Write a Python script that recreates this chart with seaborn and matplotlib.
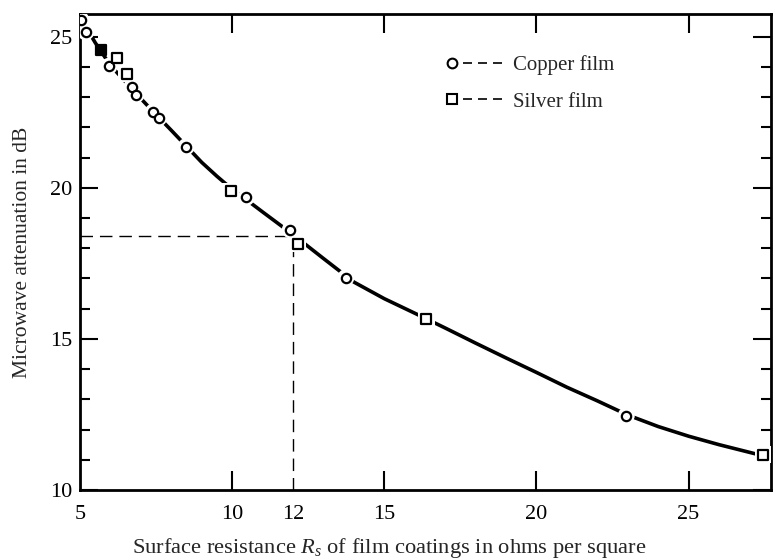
import matplotlib
matplotlib.use("Agg")
import matplotlib.pyplot as plt
from matplotlib.lines import Line2D
from matplotlib.legend_handler import HandlerBase
import seaborn as sns

# values
copper_x = [5.02, 5.19, 5.95, 6.70, 6.84, 7.41, 7.58, 8.49, 10.46, 11.91, 13.74, 22.95]
copper_y = [25.56, 25.16, 24.02, 23.33, 23.08, 22.51, 22.31, 21.36, 19.68, 18.61, 17.03, 12.46]
silver_x = [6.21, 6.54, 9.96, 12.16, 16.37, 27.46]
silver_y = [24.29, 23.77, 19.88, 18.15, 15.66, 11.16]
silver_filled_x = [5.69]
silver_filled_y = [24.57]

curve_x = [5.0, 5.5, 6.0, 6.5, 7.0, 7.5, 8.0, 8.5, 9.0, 9.5, 10.0, 10.5, 11.0, 12.0, 13.0,
           14.0, 15.0, 16.0, 17.0, 18.0, 19.0, 20.0, 21.0, 22.0, 23.0, 24.0, 25.0, 26.0, 27.3]
curve_y = [25.65, 24.8, 24.05, 23.5, 22.95, 22.42, 21.9, 21.37, 20.84, 20.38, 19.95, 19.58,
           19.2, 18.45, 17.66, 16.88, 16.33, 15.85, 15.36, 14.86, 14.37, 13.89, 13.4, 12.95,
           12.48, 12.1, 11.78, 11.5, 11.17]

ref_x = 12
ref_y = 18.4

xticks = [5, 10, 12, 15, 20, 25]
yticks = [10, 15, 20, 25]


class MarkerThenDashes(HandlerBase):
    # legend key drawn as: marker, then a short dashed line
    def create_artists(self, legend, orig_handle, xdescent, ydescent, width, height,
                       fontsize, trans):
        y = height / 2 - ydescent
        x0 = -xdescent
        mk = Line2D([x0 + 0.09 * width], [y], ls="none", marker=orig_handle.get_marker(),
                    mfc="white", mec="black", mew=1.5, ms=7)
        ln = Line2D([x0 + 0.28 * width, x0 + width], [y, y], color="black", lw=1.2,
                    ls=(0, (5.4, 3.6)))
        mk.set_transform(trans)
        ln.set_transform(trans)
        return [ln, mk]


sns.set_theme(style="ticks")
plt.rcParams["font.family"] = ["Liberation Serif", "DejaVu Serif"]
plt.rcParams["mathtext.fontset"] = "custom"
plt.rcParams["mathtext.rm"] = "Liberation Serif"
plt.rcParams["mathtext.it"] = "Liberation Serif:italic"

fig = plt.figure(figsize=(7.77, 5.6), dpi=100)
ax = fig.add_axes([0.103, 0.125, 0.889, 0.85])

# main curve
sns.lineplot(x=curve_x, y=curve_y, color="black", linewidth=2.6, sort=False,
             estimator=None, ax=ax, zorder=2)

# dashed guide lines at 12 ohms
ax.plot([5, ref_x], [ref_y, ref_y], color="black", lw=1.0, ls=(0, (9, 5)), zorder=1)
ax.plot([ref_x, ref_x], [10, ref_y], color="black", lw=1.0, ls=(0, (9, 5)), zorder=1)

# white halos so the line breaks around the points
sns.scatterplot(x=copper_x, y=copper_y, marker="o", s=150, color="white",
                edgecolor="none", ax=ax, zorder=3)
sns.scatterplot(x=silver_x, y=silver_y, marker="s", s=150, color="white",
                edgecolor="none", ax=ax, zorder=3)

sns.scatterplot(x=copper_x, y=copper_y, marker="o", s=45, facecolor="white",
                edgecolor="black", linewidth=1.6, ax=ax, zorder=4)
sns.scatterplot(x=silver_x, y=silver_y, marker="s", s=50, facecolor="white",
                edgecolor="black", linewidth=1.6, ax=ax, zorder=4)
sns.scatterplot(x=silver_filled_x, y=silver_filled_y, marker="s", s=50, color="black",
                edgecolor="black", linewidth=1.6, ax=ax, zorder=4)

ax.set_xlim(5, 27.7)
ax.set_ylim(10, 25.75)

ax.set_xticks(xticks)
ax.set_xticklabels([str(t) for t in xticks])
ax.set_yticks(yticks)
ax.set_yticks(range(10, 26), minor=True)
ax.tick_params(axis="both", which="both", direction="in", color="black", width=1.5,
               labelsize=16, labelcolor="black")
ax.tick_params(axis="x", which="major", length=14, top=True, pad=11)
ax.tick_params(axis="y", which="major", length=13, right=True, pad=5.5)
ax.tick_params(axis="y", which="minor", length=7, right=True)
ax.tick_params(axis="x", which="minor", length=0)
for t in ax.xaxis.get_major_ticks():
    if t.get_loc() in (5, 12):
        t.tick1line.set_visible(False)
        t.tick2line.set_visible(False)

for s in ax.spines.values():
    s.set_linewidth(2.0)
    s.set_color("black")

ax.set_xlabel(r"Surface resistance $R_s$ of film coatings in ohms per square",
              fontsize=16.2)
ax.xaxis.set_label_coords(0.447, -0.096)
ax.xaxis.label.set_va("top")
ax.set_ylabel("Microwave attenuation in dB", fontsize=15.5)
ax.yaxis.set_label_coords(-0.07, 0.5)

h_cu = Line2D([], [], marker="o")
h_ag = Line2D([], [], marker="s")
ax.legend([h_cu, h_ag], ["Copper film", "Silver film"],
          handler_map={Line2D: MarkerThenDashes()},
          loc="upper left", bbox_to_anchor=(0.531, 0.913), frameon=False,
          borderaxespad=0, borderpad=0, fontsize=15, handlelength=2.75,
          handletextpad=0.45, labelspacing=0.8)

fig.savefig("out.png", dpi=100)
